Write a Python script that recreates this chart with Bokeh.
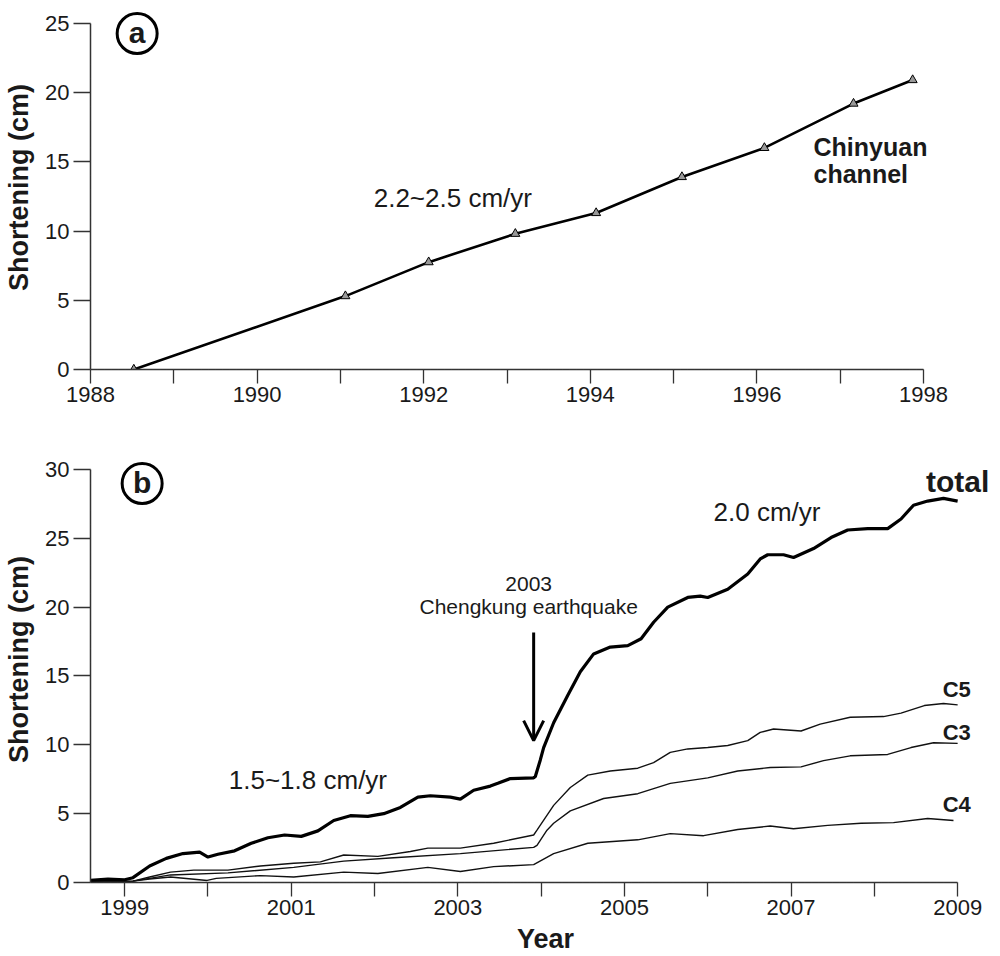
from bokeh.plotting import figure
from bokeh.layouts import column
from bokeh.models import FixedTicker, Range1d, Arrow, OpenHead, ColumnDataSource
from bokeh.core.properties import value
from bokeh.embed import file_html
from bokeh.resources import INLINE

FONT = "Liberation Sans"

# ---------------- Panel (a): Chinyuan channel ----------------
years_a = [1988.52, 1991.06, 1992.06, 1993.10, 1994.07, 1995.10, 1996.09, 1997.16, 1997.87]
short_a = [0.0, 5.3, 7.75, 9.8, 11.3, 13.9, 16.0, 19.2, 20.9]

# ---------------- Panel (b): creepmeter records ----------------
years_total = [1998.59, 1998.8, 1999.0, 1999.1, 1999.3, 1999.5, 1999.7, 1999.9, 2000.0, 2000.12,
               2000.32, 2000.52, 2000.72, 2000.92, 2001.12, 2001.32, 2001.51, 2001.71, 2001.92,
               2002.11, 2002.31, 2002.52, 2002.67, 2002.91, 2003.03, 2003.19, 2003.39, 2003.48,
               2003.63, 2003.91, 2003.93, 2003.99, 2004.03, 2004.15, 2004.32, 2004.47, 2004.63,
               2004.83, 2005.04, 2005.2, 2005.35, 2005.52, 2005.76, 2005.91, 2006.0, 2006.24,
               2006.48, 2006.63, 2006.72, 2006.91, 2007.03, 2007.27, 2007.48, 2007.68, 2007.92,
               2008.16, 2008.32, 2008.47, 2008.64, 2008.83, 2009.0]
total = [0.15, 0.25, 0.2, 0.35, 1.2, 1.75, 2.1, 2.2, 1.85, 2.05,
         2.3, 2.85, 3.25, 3.45, 3.35, 3.75, 4.5, 4.85, 4.8,
         5.0, 5.45, 6.2, 6.3, 6.2, 6.05, 6.7, 7.0, 7.2,
         7.55, 7.6, 7.7, 8.9, 9.8, 11.6, 13.6, 15.3, 16.6,
         17.1, 17.2, 17.7, 18.9, 20.0, 20.7, 20.8, 20.7, 21.3,
         22.4, 23.5, 23.8, 23.8, 23.6, 24.25, 25.05, 25.6, 25.7,
         25.7, 26.4, 27.4, 27.7, 27.9, 27.7]

years_c5 = [1998.59, 1999.1, 1999.3, 1999.55, 1999.83, 2000.24, 2000.63, 2001.03, 2001.35, 2001.63,
            2002.04, 2002.43, 2002.64, 2003.03, 2003.43, 2003.91, 2003.95, 2004.15, 2004.35, 2004.56,
            2004.83, 2005.16, 2005.35, 2005.55, 2005.76, 2006.0, 2006.24, 2006.48, 2006.63, 2006.79,
            2007.12, 2007.35, 2007.71, 2008.11, 2008.32, 2008.6, 2008.83, 2009.0]
c5 = [0.05, 0.1, 0.4, 0.75, 0.9, 0.9, 1.2, 1.4, 1.5, 2.0,
      1.9, 2.25, 2.5, 2.5, 2.85, 3.45, 3.8, 5.6, 6.9, 7.8,
      8.1, 8.3, 8.7, 9.45, 9.7, 9.8, 9.95, 10.3, 10.9, 11.15,
      11.0, 11.5, 12.0, 12.05, 12.3, 12.85, 13.0, 12.9]

years_c3 = [1998.59, 1999.1, 1999.3, 1999.55, 2000.24, 2001.03, 2001.63, 2002.23, 2003.03, 2003.91,
            2003.95, 2004.07, 2004.15, 2004.35, 2004.75, 2005.16, 2005.55, 2006.0, 2006.36, 2006.75,
            2007.12, 2007.39, 2007.71, 2008.16, 2008.44, 2008.71, 2009.0]
c3 = [0.05, 0.1, 0.3, 0.55, 0.7, 1.1, 1.55, 1.8, 2.1, 2.55,
      2.7, 3.8, 4.3, 5.2, 6.1, 6.45, 7.2, 7.6, 8.1, 8.35,
      8.4, 8.85, 9.2, 9.3, 9.8, 10.15, 10.1]

years_c4 = [1998.59, 1999.1, 1999.3, 1999.55, 1999.99, 2000.1, 2000.63, 2001.03, 2001.63, 2002.04,
            2002.64, 2003.03, 2003.43, 2003.91, 2004.15, 2004.56, 2005.16, 2005.55, 2005.95, 2006.36,
            2006.75, 2007.03, 2007.44, 2007.84, 2008.23, 2008.64, 2008.95]
c4 = [0.05, 0.1, 0.25, 0.4, 0.15, 0.3, 0.5, 0.4, 0.75, 0.65,
      1.1, 0.8, 1.15, 1.3, 2.1, 2.85, 3.1, 3.55, 3.4, 3.85,
      4.1, 3.9, 4.15, 4.3, 4.35, 4.65, 4.5]

# ---------------- ticks ----------------
xticks_a = [1988, 1989, 1990, 1991, 1992, 1993, 1994, 1995, 1996, 1997, 1998]
xlabels_a = [1988, 1990, 1992, 1994, 1996, 1998]
yticks_a = [0, 5, 10, 15, 20, 25]
xticks_b = [1999, 2000, 2001, 2002, 2003, 2004, 2005, 2006, 2007, 2008, 2009]
xlabels_b = [1999, 2001, 2003, 2005, 2007, 2009]
yticks_b = [0, 5, 10, 15, 20, 25, 30]

# ---------------- annotation anchors (data units) ----------------
rate_a_pos = (1991.40, 12.35)
chin_pos = [(1996.68, 16.1), (1996.68, 14.08)]
panel_a_pos = (1988.56, 24.26)

rate_b1_pos = (2000.25, 7.48)
rate_b2_pos = (2006.07, 26.94)
total_pos = (2008.62, 29.12)
quake_year_pos = (2003.85, 21.71)
quake_name_pos = (2003.85, 20.04)
arrow_x = 2003.91
arrow_y = (18.15, 10.3)
clabels = ["C5", "C3", "C4"]
clabel_x = [2008.82, 2008.82, 2008.82]
clabel_y = [14.02, 10.89, 5.66]
panel_b_pos = (1999.21, 28.98)

AXIS_COLOR = "#333333"
TXT_COLOR = "#1a1a1a"
PX_PER_YEAR = 83.3


def months(lo, hi):
    out = []
    for y in range(int(lo) - 1, int(hi) + 1):
        for m in range(12):
            v = y + m / 12.0
            if lo - 1e-9 <= v <= hi + 1e-9:
                out.append(v)
    return out


def style_axes(p, xb, yb, xt, xlabels, yt, px_per_unit):
    p.outline_line_color = None
    p.grid.visible = False
    p.background_fill_color = "white"
    p.border_fill_color = "white"
    xa = p.xaxis[0]
    ya = p.yaxis[0]
    xa.bounds = xb
    ya.bounds = yb
    xa.ticker = FixedTicker(ticks=[float(t) for t in xt])
    xa.major_label_overrides = {t: (str(t) if t in xlabels else "") for t in xt}
    ya.ticker = FixedTicker(ticks=[float(t) for t in yt])
    for ax in (xa, ya):
        ax.axis_line_color = AXIS_COLOR
        ax.axis_line_width = 1.5
        ax.major_tick_line_color = AXIS_COLOR
        ax.minor_tick_line_color = None
        ax.major_tick_line_width = 1.3
        ax.major_tick_in = 0
        ax.major_label_text_font = FONT
        ax.major_label_text_font_size = "22px"
        ax.major_label_text_color = TXT_COLOR
        ax.axis_label_text_font = FONT
        ax.axis_label_text_font_style = "bold"
        ax.axis_label_text_font_size = "27px"
        ax.axis_label_text_color = TXT_COLOR
    xa.major_tick_out = 14
    xa.major_label_standoff = 3
    ya.major_tick_out = 17
    ya.major_label_standoff = 4
    ya.axis_label = "Shortening (cm)"
    ya.axis_label_standoff = 8

    # fine tick combs (monthly on x, 1 cm on y) as head-less arrow segments just outside the frame
    mx = months(xb[0], xb[1])
    src_x = ColumnDataSource(dict(x0=mx, y0=[yb[0]] * len(mx), x1=mx,
                                  y1=[yb[0] - 6.0 / px_per_unit] * len(mx)))
    p.add_layout(Arrow(end=None, source=src_x, x_start="x0", y_start="y0", x_end="x1", y_end="y1",
                       line_color="#444444", line_width=1.1))
    my = [float(v) for v in range(int(yb[0]), int(yb[1]) + 1)]
    src_y = ColumnDataSource(dict(x0=[xb[0]] * len(my), y0=my,
                                  x1=[xb[0] - 10.0 / PX_PER_YEAR] * len(my), y1=my))
    p.add_layout(Arrow(end=None, source=src_y, x_start="x0", y_start="y0", x_end="x1", y_end="y1",
                       line_color="#444444", line_width=1.1))


def add_text(p, x, y, txt, size, bold=False, align="left"):
    p.text(x=[x], y=[y], text=[txt], text_font=value(FONT), text_font_size=size,
           text_font_style="bold" if bold else "normal", text_align=align,
           text_baseline="middle", text_color=TXT_COLOR)


# ---------------- top figure ----------------
FRAME_W = 910
PXU_A = 13.85
pa = figure(frame_width=FRAME_W, frame_height=364, min_border_left=90, min_border_right=0,
            min_border_top=5, min_border_bottom=61, output_backend="svg", toolbar_location=None,
            x_range=Range1d(1988, 1988 + FRAME_W / PX_PER_YEAR), y_range=Range1d(0, 364 / PXU_A))
style_axes(pa, (1988, 1998), (0, 25), xticks_a, xlabels_a, yticks_a, PXU_A)
pa.line(years_a, short_a, line_color="black", line_width=2.6)
pa.scatter(years_a, short_a, marker="triangle", size=9, fill_color="#999999",
           line_color="black", line_width=1)
add_text(pa, rate_a_pos[0], rate_a_pos[1], "2.2~2.5 cm/yr", "26px")
add_text(pa, chin_pos[0][0], chin_pos[0][1], "Chinyuan", "25px", bold=True)
add_text(pa, chin_pos[1][0], chin_pos[1][1], "channel", "25px", bold=True)
pa.scatter([panel_a_pos[0]], [panel_a_pos[1]], marker="circle", size=40, fill_color=None,
           line_color="black", line_width=3)
add_text(pa, panel_a_pos[0], panel_a_pos[1] + 0.1, "a", "30px", bold=True, align="center")

# ---------------- bottom figure ----------------
XB0 = 1998.59
PXU_B = 13.77
pb = figure(frame_width=FRAME_W, frame_height=446, min_border_left=90, min_border_right=0,
            min_border_top=6, min_border_bottom=74, output_backend="svg", toolbar_location=None,
            x_range=Range1d(XB0, XB0 + FRAME_W / PX_PER_YEAR), y_range=Range1d(0, 446 / PXU_B))
style_axes(pb, (XB0, 2009), (0, 30), xticks_b, xlabels_b, yticks_b, PXU_B)
pb.below[0].axis_label = "Year"
pb.below[0].axis_label_standoff = 6
pb.line(years_c4, c4, line_color="#111111", line_width=1.4)
pb.line(years_c3, c3, line_color="#111111", line_width=1.4)
pb.line(years_c5, c5, line_color="#111111", line_width=1.4)
pb.line(years_total, total, line_color="black", line_width=3.2)

add_text(pb, rate_b1_pos[0], rate_b1_pos[1], "1.5~1.8 cm/yr", "26px")
add_text(pb, rate_b2_pos[0], rate_b2_pos[1], "2.0 cm/yr", "26px")
add_text(pb, total_pos[0], total_pos[1], "total", "30px", bold=True)
add_text(pb, quake_year_pos[0], quake_year_pos[1], "2003", "21px", align="center")
add_text(pb, quake_name_pos[0], quake_name_pos[1], "Chengkung earthquake", "21px", align="center")
pb.text(x=clabel_x, y=clabel_y, text=clabels, text_font=value(FONT), text_font_size="22px",
        text_font_style="bold", text_align="left", text_baseline="middle", text_color=TXT_COLOR)
pb.add_layout(Arrow(end=OpenHead(size=20, line_width=3, line_color="black"),
                    x_start=arrow_x, y_start=arrow_y[0], x_end=arrow_x, y_end=arrow_y[1],
                    line_width=3, line_color="black"))
pb.scatter([panel_b_pos[0]], [panel_b_pos[1]], marker="circle", size=40, fill_color=None,
           line_color="black", line_width=3)
add_text(pb, panel_b_pos[0], panel_b_pos[1] + 0.1, "b", "30px", bold=True, align="center")

layout = column(pa, pb, spacing=0)
open("out.html", "w").write(file_html(layout, INLINE))
